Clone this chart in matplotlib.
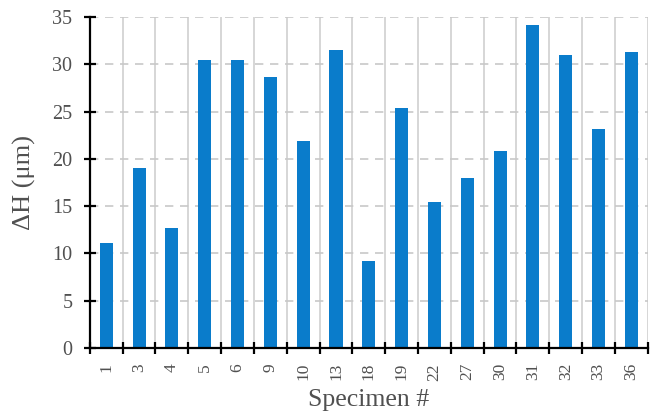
import matplotlib
matplotlib.use("Agg")
import matplotlib.pyplot as plt
import numpy as np

specimens = ["1", "3", "4", "5", "6", "9", "10", "13", "18", "19", "22", "27", "30", "31", "32", "33", "36"]
delta_h = [11.1, 19.0, 12.7, 30.5, 30.5, 28.6, 21.9, 31.5, 9.2, 25.4, 15.4, 18.0, 20.8, 34.2, 31.0, 23.1, 31.3]
y_ticks = [0, 5, 10, 15, 20, 25, 30, 35]

plt.rcParams['font.family'] = ['Liberation Serif', 'DejaVu Serif']

fig = plt.figure(figsize=(6.51, 4.15), dpi=100)
ax = fig.add_axes([0.138, 0.162, 0.857, 0.797])

x = np.arange(len(specimens))
ax.bar(x, delta_h, width=0.4, color="#0A7CCB", zorder=3)

ax.set_xlim(-0.5, len(specimens) - 0.5)
ax.set_ylim(0, 35)
ax.set_yticks(y_ticks)
ax.set_xticks(x)
ax.set_xticklabels(specimens, rotation=90, fontsize=12.5, color="#505050")
ax.set_xticks(np.arange(len(specimens) + 1) - 0.5, minor=True)
ax.tick_params(axis='x', which='major', length=0, pad=11)
ax.tick_params(axis='x', which='minor', length=9, width=1.6, direction='inout', color='black')
ax.tick_params(axis='y', which='major', length=9, width=1.6, direction='inout', labelsize=14.5, colors='black', pad=8)
for lbl in ax.get_yticklabels():
    lbl.set_color("#505050")

ax.grid(axis='y', which='major', linestyle=(0, (5, 4)), color="#C8C8C8", linewidth=1.2, zorder=0)
ax.grid(axis='x', which='minor', linestyle='-', color="#D0D0D0", linewidth=1.2, zorder=0)
ax.grid(axis='x', which='major', visible=False)

for s in ['top', 'right']:
    ax.spines[s].set_visible(False)
ax.spines['left'].set_linewidth(1.6)
ax.spines['bottom'].set_linewidth(1.6)
ax.spines['left'].set_zorder(4)
ax.spines['bottom'].set_zorder(4)

ax.set_ylabel("ΔH (μm)", fontsize=19, color="#505050", labelpad=12)
ax.set_xlabel("Specimen #", fontsize=18.5, color="#505050")
ax.xaxis.set_label_coords(0.5, -0.125)

fig.savefig("out.png", dpi=100)
